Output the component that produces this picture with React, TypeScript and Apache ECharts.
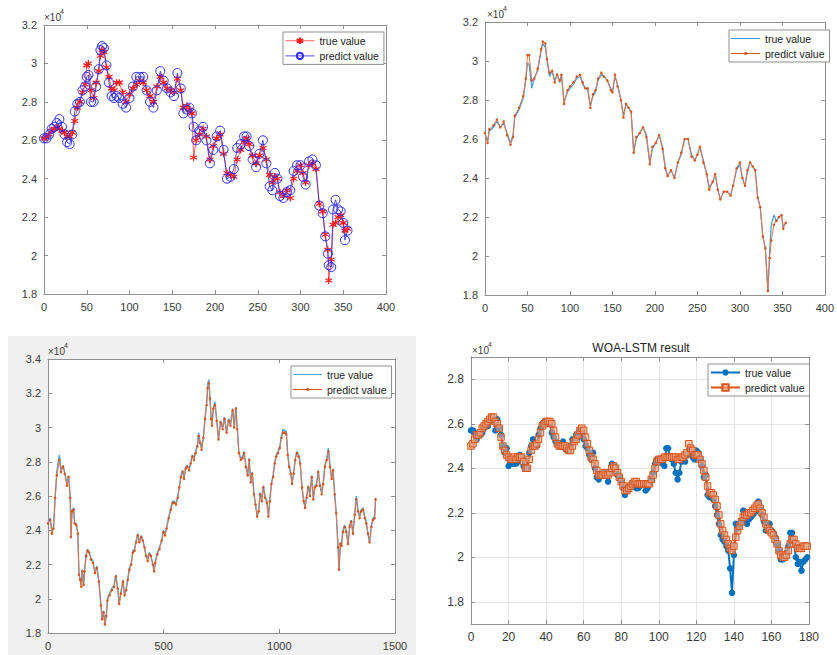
import React, { useEffect, useRef } from "react";
import * as echarts from "echarts";

const W = 837;
const H = 655;

// ---------- Panel 1 (top-left): true (red *) vs predict (blue o), values x10^4 ----------
const p1X = [
  0, 3, 6, 9, 12, 15, 18, 21, 24, 27,
  30, 33, 36, 39, 42, 45, 48, 50, 52, 55,
  58, 61, 64, 66, 68, 70, 73, 76, 79, 82,
  85, 88, 92, 96, 100, 104, 108, 112, 116, 120,
  124, 128, 132, 136, 140, 144, 148, 152, 156, 160,
  163, 167, 170, 173, 175, 178, 182, 186, 190, 194,
  198, 202, 206, 210, 214, 218, 222, 226, 230, 234,
  237, 240, 244, 248, 252, 256, 260, 264, 267, 270,
  273, 276, 280, 284, 288, 292, 296, 300, 303, 306,
  310, 314, 318, 322, 326, 329, 332, 333, 336, 338,
  341, 344, 347, 350, 352, 355,
];
const p1True = [
  2.61, 2.62, 2.63, 2.65, 2.66, 2.67, 2.66, 2.65, 2.64, 2.62,
  2.62, 2.64, 2.70, 2.77, 2.80, 2.85, 2.89, 2.99, 3.00, 2.86,
  2.82, 2.90, 2.96, 3.04, 3.07, 3.06, 2.98, 2.93, 2.87, 2.86,
  2.90, 2.90, 2.85, 2.80, 2.84, 2.87, 2.89, 2.91, 2.90, 2.86,
  2.83, 2.80, 2.88, 2.93, 2.90, 2.87, 2.86, 2.85, 2.92, 2.86,
  2.77, 2.78, 2.76, 2.74, 2.51, 2.60, 2.63, 2.66, 2.62, 2.50,
  2.57, 2.61, 2.63, 2.53, 2.43, 2.42, 2.41, 2.50, 2.55, 2.59,
  2.61, 2.58, 2.52, 2.48, 2.52, 2.56, 2.50, 2.42, 2.38, 2.41,
  2.40, 2.33, 2.31, 2.34, 2.30, 2.40, 2.44, 2.47, 2.43, 2.38,
  2.47, 2.48, 2.45, 2.27, 2.23, 2.11, 2.03, 1.87, 1.98, 2.16,
  2.17, 2.20, 2.21, 2.17, 2.13, 2.14,
];
const p1Pred = [
  2.61, 2.61, 2.63, 2.66, 2.67, 2.69, 2.71, 2.67, 2.63, 2.59,
  2.58, 2.63, 2.75, 2.79, 2.80, 2.86, 2.88, 2.93, 2.94, 2.80,
  2.80, 2.88, 2.97, 3.07, 3.09, 3.08, 2.99, 2.90, 2.83, 2.82,
  2.83, 2.82, 2.79, 2.77, 2.82, 2.88, 2.93, 2.93, 2.93, 2.86,
  2.80, 2.77, 2.86, 2.96, 2.91, 2.87, 2.85, 2.83, 2.95, 2.87,
  2.74, 2.76, 2.77, 2.74, 2.67, 2.60, 2.65, 2.67, 2.60, 2.48,
  2.55, 2.62, 2.65, 2.55, 2.40, 2.41, 2.45, 2.56, 2.58, 2.62,
  2.62, 2.57, 2.50, 2.46, 2.53, 2.60, 2.48, 2.36, 2.34, 2.43,
  2.40, 2.31, 2.30, 2.33, 2.34, 2.44, 2.47, 2.47, 2.41, 2.37,
  2.49, 2.50, 2.47, 2.26, 2.22, 2.10, 2.01, 1.95, 1.94, 2.24,
  2.29, 2.24, 2.23, 2.17, 2.08, 2.13,
];

// ---------- Panel 2 (top-right) ----------
const p2X = [
  0, 3, 5, 10, 14, 18, 22, 26, 30, 33,
  35, 40, 45, 48, 50, 52, 55, 58, 62, 66,
  68, 71, 73, 76, 79, 82, 85, 88, 90, 93,
  97, 100, 104, 108, 112, 115, 118, 121, 124, 127,
  130, 133, 137, 140, 144, 148, 150, 153, 156, 160,
  163, 166, 169, 172, 175, 178, 182, 186, 190, 194,
  197, 201, 205, 209, 212, 215, 219, 223, 227, 231,
  235, 239, 243, 247, 250, 253, 257, 261, 264, 268,
  271, 274, 277, 281, 285, 289, 292, 296, 300, 303,
  306, 309, 312, 315, 318, 321, 324, 327, 330, 333,
  335, 337, 340, 343, 346, 349, 351, 354,
];
const p2True = [
  2.62, 2.59, 2.64, 2.66, 2.69, 2.66, 2.68, 2.63, 2.58, 2.62,
  2.71, 2.75, 2.81, 2.90, 2.99, 2.98, 2.86, 2.91, 2.95, 3.05,
  3.09, 3.07, 3.00, 2.92, 2.95, 2.90, 2.93, 2.89, 2.93, 2.79,
  2.84, 2.86, 2.88, 2.91, 2.92, 2.88, 2.86, 2.85, 2.77, 2.82,
  2.84, 2.90, 2.93, 2.92, 2.90, 2.86, 2.84, 2.92, 2.88, 2.80,
  2.72, 2.78, 2.76, 2.74, 2.53, 2.60, 2.63, 2.66, 2.62, 2.48,
  2.55, 2.58, 2.62, 2.56, 2.46, 2.41, 2.44, 2.40, 2.48, 2.52,
  2.60, 2.60, 2.52, 2.49, 2.52, 2.56, 2.49, 2.42, 2.35, 2.38,
  2.42, 2.34, 2.29, 2.33, 2.33, 2.31, 2.36, 2.44, 2.47, 2.40,
  2.36, 2.44, 2.48, 2.46, 2.44, 2.30, 2.25, 2.10, 2.04, 1.82,
  2.02, 2.16, 2.21, 2.18, 2.20, 2.21, 2.15, 2.17,
];
const p2Pred = [
  2.63, 2.58, 2.65, 2.67, 2.70, 2.66, 2.69, 2.62, 2.57, 2.61,
  2.72, 2.76, 2.82, 2.91, 3.03, 3.03, 2.90, 2.91, 2.96, 3.06,
  3.10, 3.09, 3.01, 2.94, 2.95, 2.89, 2.93, 2.90, 2.93, 2.78,
  2.85, 2.87, 2.89, 2.92, 2.93, 2.89, 2.86, 2.86, 2.76, 2.83,
  2.85, 2.91, 2.94, 2.92, 2.90, 2.85, 2.84, 2.93, 2.87, 2.80,
  2.71, 2.78, 2.76, 2.74, 2.53, 2.61, 2.63, 2.66, 2.61, 2.47,
  2.56, 2.58, 2.62, 2.55, 2.45, 2.41, 2.44, 2.40, 2.48, 2.53,
  2.60, 2.60, 2.51, 2.49, 2.52, 2.56, 2.48, 2.42, 2.34, 2.38,
  2.42, 2.34, 2.29, 2.33, 2.33, 2.31, 2.36, 2.45, 2.48, 2.40,
  2.36, 2.44, 2.48, 2.46, 2.44, 2.30, 2.25, 2.10, 2.04, 1.82,
  1.99, 2.08, 2.16, 2.18, 2.20, 2.21, 2.14, 2.17,
];

// ---------- Panel 3 (bottom-left) ----------
const p3X = [
  0, 10, 17, 24, 31, 38, 49, 56, 65, 72,
  82, 89, 96, 99, 104, 111, 115, 122, 129, 134,
  139, 144, 148, 154, 158, 165, 171, 178, 185, 194,
  203, 211, 220, 229, 234, 240, 246, 252, 257, 266,
  276, 286, 293, 301, 308, 315, 324, 331, 338, 345,
  352, 360, 367, 374, 381, 388, 395, 403, 410, 417,
  424, 431, 438, 445, 453, 459, 464, 473, 482, 492,
  499, 506, 513, 522, 531, 539, 546, 553, 561, 568,
  575, 582, 588, 595, 602, 610, 617, 624, 631, 638,
  646, 651, 657, 664, 672, 679, 686, 690, 695, 700,
  705, 709, 715, 722, 729, 737, 746, 755, 763, 772,
  781, 789, 798, 805, 812, 818, 825, 833, 841, 848,
  855, 863, 870, 876, 883, 890, 897, 904, 911, 917,
  924, 931, 938, 946, 953, 959, 966, 973, 980, 987,
  994, 1002, 1009, 1016, 1023, 1030, 1036, 1042, 1049, 1055,
  1062, 1069, 1076, 1083, 1090, 1098, 1105, 1111, 1118, 1125,
  1132, 1140, 1147, 1154, 1161, 1168, 1176, 1183, 1190, 1197,
  1205, 1212, 1219, 1226, 1232, 1239, 1246, 1254, 1258, 1264,
  1269, 1275, 1282, 1289, 1297, 1304, 1311, 1318, 1326, 1333,
  1340, 1347, 1354, 1362, 1369, 1376, 1383, 1390, 1398, 1405,
  1412, 1416,
];
const p3True = [
  2.45, 2.47, 2.39, 2.42, 2.60, 2.74, 2.84, 2.75, 2.78, 2.74,
  2.67, 2.72, 2.60, 2.36, 2.52, 2.53, 2.44, 2.44, 2.38, 2.14,
  2.12, 2.07, 2.17, 2.08, 2.17, 2.26, 2.29, 2.27, 2.24, 2.22,
  2.15, 2.19, 2.10, 1.96, 1.88, 1.93, 1.85, 1.90, 2.00, 2.03,
  2.06, 2.08, 2.14, 2.06, 1.97, 2.04, 2.11, 2.02, 2.06, 2.12,
  2.18, 2.21, 2.28, 2.29, 2.34, 2.38, 2.33, 2.37, 2.34, 2.30,
  2.25, 2.23, 2.27, 2.25, 2.20, 2.16, 2.22, 2.27, 2.30, 2.35,
  2.40, 2.38, 2.42, 2.48, 2.53, 2.57, 2.57, 2.55, 2.60, 2.66,
  2.72, 2.75, 2.70, 2.77, 2.78, 2.76, 2.80, 2.84, 2.82, 2.86,
  2.90, 2.97, 2.92, 2.88, 2.95, 3.06, 3.15, 3.25, 3.28, 3.18,
  3.06, 3.02, 3.12, 3.15, 3.05, 2.93, 3.04, 3.00, 3.06, 2.97,
  3.05, 3.02, 3.11, 3.00, 3.12, 3.00, 2.86, 2.82, 2.83, 2.86,
  2.78, 2.72, 2.82, 2.68, 2.74, 2.62, 2.55, 2.48, 2.52, 2.62,
  2.58, 2.66, 2.60, 2.57, 2.48, 2.58, 2.68, 2.72, 2.80, 2.84,
  2.86, 2.89, 2.95, 2.99, 2.98, 2.98, 2.85, 2.78, 2.74, 2.67,
  2.74, 2.82, 2.86, 2.84, 2.80, 2.65, 2.58, 2.53, 2.60, 2.66,
  2.61, 2.72, 2.58, 2.66, 2.67, 2.75, 2.66, 2.62, 2.68, 2.78,
  2.82, 2.88, 2.78, 2.70, 2.76, 2.62, 2.50, 2.30, 2.17, 2.33,
  2.32, 2.40, 2.43, 2.40, 2.32, 2.43, 2.46, 2.38, 2.50, 2.60,
  2.52, 2.48, 2.52, 2.53, 2.48, 2.45, 2.38, 2.33, 2.43, 2.47,
  2.48, 2.59,
];
const p3Pred = [
  2.44, 2.46, 2.38, 2.41, 2.59, 2.72, 2.81, 2.74, 2.77, 2.73,
  2.66, 2.71, 2.59, 2.36, 2.51, 2.52, 2.44, 2.43, 2.38, 2.14,
  2.11, 2.07, 2.16, 2.08, 2.16, 2.25, 2.28, 2.27, 2.23, 2.21,
  2.15, 2.18, 2.10, 1.96, 1.88, 1.92, 1.85, 1.90, 1.99, 2.02,
  2.05, 2.07, 2.13, 2.06, 1.97, 2.03, 2.10, 2.02, 2.05, 2.11,
  2.17, 2.20, 2.27, 2.28, 2.33, 2.37, 2.33, 2.36, 2.34, 2.30,
  2.25, 2.22, 2.26, 2.25, 2.20, 2.16, 2.21, 2.26, 2.29, 2.34,
  2.39, 2.37, 2.41, 2.47, 2.52, 2.56, 2.56, 2.55, 2.59, 2.65,
  2.71, 2.74, 2.70, 2.76, 2.77, 2.75, 2.79, 2.83, 2.81, 2.85,
  2.89, 2.95, 2.91, 2.87, 2.94, 3.05, 3.13, 3.23, 3.26, 3.17,
  3.05, 3.01, 3.11, 3.13, 3.04, 2.93, 3.03, 2.99, 3.05, 2.97,
  3.04, 3.01, 3.10, 3.00, 3.11, 2.99, 2.85, 2.81, 2.82, 2.85,
  2.77, 2.72, 2.81, 2.68, 2.73, 2.61, 2.55, 2.48, 2.51, 2.61,
  2.57, 2.65, 2.59, 2.56, 2.48, 2.57, 2.67, 2.71, 2.79, 2.83,
  2.85, 2.88, 2.94, 2.97, 2.97, 2.96, 2.84, 2.77, 2.73, 2.67,
  2.73, 2.81, 2.85, 2.83, 2.79, 2.65, 2.57, 2.53, 2.59, 2.65,
  2.60, 2.71, 2.58, 2.65, 2.66, 2.74, 2.66, 2.61, 2.67, 2.77,
  2.81, 2.86, 2.77, 2.70, 2.75, 2.61, 2.50, 2.30, 2.17, 2.32,
  2.31, 2.39, 2.42, 2.39, 2.32, 2.42, 2.45, 2.38, 2.49, 2.58,
  2.51, 2.47, 2.51, 2.52, 2.47, 2.44, 2.38, 2.33, 2.42, 2.46,
  2.47, 2.58,
];

// ---------- Panel 4 (bottom-right, WOA-LSTM result), one value per sample 0..179 ----------
const p4True = [
  2.57, 2.57, 2.56, 2.53, 2.55, 2.55, 2.56, 2.58, 2.60, 2.59,
  2.61, 2.63, 2.62, 2.57, 2.62, 2.58, 2.55, 2.50, 2.47, 2.49,
  2.41, 2.43, 2.42, 2.42, 2.42, 2.43, 2.46, 2.45, 2.41, 2.40,
  2.40, 2.47, 2.50, 2.53, 2.50, 2.50, 2.55, 2.58, 2.60, 2.61,
  2.61, 2.60, 2.60, 2.56, 2.54, 2.52, 2.51, 2.50, 2.50, 2.52,
  2.49, 2.48, 2.48, 2.50, 2.53, 2.53, 2.55, 2.54, 2.57, 2.56,
  2.53, 2.50, 2.49, 2.46, 2.44, 2.47, 2.40, 2.36, 2.35, 2.37,
  2.37, 2.38, 2.37, 2.34, 2.38, 2.42, 2.41, 2.40, 2.37, 2.36,
  2.34, 2.31, 2.28, 2.30, 2.31, 2.32, 2.33, 2.32, 2.31, 2.31,
  2.32, 2.33, 2.33, 2.30, 2.31, 2.33, 2.35, 2.38, 2.42, 2.44,
  2.44, 2.43, 2.42, 2.41, 2.49, 2.49, 2.45, 2.44, 2.42, 2.38,
  2.35, 2.38, 2.43, 2.44, 2.43, 2.46, 2.48, 2.47, 2.45, 2.44,
  2.48, 2.47, 2.44, 2.41, 2.36, 2.37, 2.28, 2.27, 2.27, 2.26,
  2.23, 2.19, 2.15, 2.10, 2.08, 2.07, 2.05, 2.03, 1.95, 1.84,
  2.01, 2.15, 2.13, 2.14, 2.16, 2.21, 2.17, 2.15, 2.17, 2.18,
  2.19, 2.20, 2.21, 2.25, 2.22, 2.19, 2.16, 2.12, 2.14, 2.15,
  2.12, 2.11, 2.09, 2.06, 2.03, 1.99, 1.99, 2.00, 2.02, 2.05,
  2.11, 2.11, 2.07, 2.00, 1.97, 1.98, 1.94, 1.98, 1.99, 2.00,
];
const p4Pred = [
  2.50, 2.51, 2.53, 2.55, 2.55, 2.56, 2.58, 2.59, 2.60, 2.61,
  2.62, 2.63, 2.63, 2.61, 2.60, 2.58, 2.54, 2.50, 2.48, 2.46,
  2.45, 2.44, 2.44, 2.45, 2.44, 2.45, 2.45, 2.45, 2.43, 2.40,
  2.40, 2.44, 2.48, 2.50, 2.50, 2.51, 2.53, 2.56, 2.59, 2.60,
  2.61, 2.61, 2.61, 2.60, 2.57, 2.54, 2.51, 2.50, 2.50, 2.50,
  2.50, 2.49, 2.48, 2.48, 2.50, 2.52, 2.53, 2.55, 2.57, 2.58,
  2.57, 2.54, 2.51, 2.48, 2.45, 2.44, 2.42, 2.39, 2.37, 2.37,
  2.37, 2.38, 2.37, 2.37, 2.38, 2.40, 2.41, 2.40, 2.38, 2.36,
  2.34, 2.32, 2.30, 2.30, 2.31, 2.32, 2.33, 2.34, 2.34, 2.33,
  2.33, 2.33, 2.33, 2.33, 2.33, 2.33, 2.35, 2.37, 2.40, 2.43,
  2.44, 2.44, 2.44, 2.45, 2.45, 2.45, 2.45, 2.45, 2.45, 2.45,
  2.44, 2.44, 2.45, 2.45, 2.46, 2.47, 2.51, 2.49, 2.48, 2.46,
  2.46, 2.46, 2.44, 2.42, 2.39, 2.36, 2.32, 2.29, 2.29, 2.28,
  2.26, 2.23, 2.19, 2.15, 2.12, 2.10, 2.08, 2.06, 2.04, 2.03,
  2.05, 2.09, 2.12, 2.14, 2.16, 2.18, 2.19, 2.19, 2.20, 2.20,
  2.21, 2.22, 2.23, 2.24, 2.22, 2.20, 2.18, 2.15, 2.13, 2.12,
  2.11, 2.10, 2.08, 2.06, 2.03, 2.01, 2.00, 2.00, 2.01, 2.03,
  2.06, 2.08, 2.08, 2.06, 2.04, 2.04, 2.04, 2.05, 2.05, 2.05,
];

// tick/axis definitions
const yTicks12 = { min: 1.8, max: 3.2, interval: 0.2 };
const xTicks12 = { min: 0, max: 400, interval: 50 };
const yTicks3 = { min: 1.8, max: 3.4, interval: 0.2 };
const xTicks3 = { min: 0, max: 1500, interval: 500 };
const yTicks4 = { min: 1.7, max: 2.9, splitNumber: 6 };
const xTicks4 = { min: 0, max: 180, interval: 20 };

const TRUE_NAME = "true value";
const PRED_NAME = "predict value";

const AX = "#8f8f8f";
const TXT = "#3a3a3a";
const FONT = "'Liberation Sans', Arial, Helvetica, sans-serif";
const ASTERISK = "path://M0 -5L0 5M-4.33 -2.5L4.33 2.5M-4.33 2.5L4.33 -2.5";
const LINE_ICON = "path://M0 0H30V1.1H0Z";
const LINE_DOT_ICON = "path://M0 1.1H30V2H0ZM14 0H16.2V3.1H14Z";

const zip = (xs: number[], ys: number[]) => {
  const n = Math.min(xs.length, ys.length);
  const out: number[][] = [];
  for (let i = 0; i < n; i++) out.push([xs[i], ys[i]]);
  return out;
};
const idx = (ys: number[]) => ys.map((v, i) => [i, v]);
const fmt = (v: number) => String(parseFloat(Number(v).toFixed(2)));

function xPair(g: number, t: any, fs: number, split: boolean) {
  const common = {
    type: "value",
    gridIndex: g,
    ...t,
    axisLine: { show: true, onZero: false, lineStyle: { color: AX, width: 1 } },
    axisTick: { show: true, inside: true, length: 4, lineStyle: { color: AX } },
    splitLine: { show: false },
  };
  return [
    {
      ...common,
      position: "bottom",
      axisLabel: { show: true, color: TXT, fontSize: fs, fontFamily: FONT, margin: 7, formatter: fmt },
      splitLine: { show: split, lineStyle: { color: "#e4e4e4", width: 1 } },
    },
    { ...common, position: "top", axisLabel: { show: false } },
  ];
}
function yPair(g: number, t: any, fs: number, split: boolean, hideEnds = false) {
  const common = {
    type: "value",
    gridIndex: g,
    ...t,
    axisLine: { show: true, onZero: false, lineStyle: { color: AX, width: 1 } },
    axisTick: { show: true, inside: true, length: 4, lineStyle: { color: AX } },
    splitLine: { show: false },
  };
  return [
    {
      ...common,
      position: "left",
      axisLabel: {
        show: true,
        color: TXT,
        fontSize: fs,
        fontFamily: FONT,
        margin: 7,
        formatter: fmt,
        showMinLabel: !hideEnds,
        showMaxLabel: !hideEnds,
      },
      splitLine: { show: split, lineStyle: { color: "#e4e4e4", width: 1 } },
    },
    { ...common, position: "right", axisLabel: { show: false } },
  ];
}

function expLabel(x: number, y: number, fs: number) {
  return [
    { type: "text", x, y, style: { text: "×10", fontSize: fs, fontFamily: FONT, fill: TXT } },
    { type: "text", x: x + fs * 1.6, y: y - 4, style: { text: "4", fontSize: fs - 3, fontFamily: FONT, fill: TXT } },
  ];
}

function buildOption() {
  const names = [0, 1, 2, 3].map((k) => ({ t: TRUE_NAME + " ".repeat(k), p: PRED_NAME + " ".repeat(k) }));
  const legendBase = {
    orient: "vertical",
    itemWidth: 29,
    itemHeight: 8,
    itemGap: 4,
    padding: [3, 5, 3, 2],
    borderColor: AX,
    borderWidth: 1,
    backgroundColor: "#fff",
    selectedMode: false,
    textStyle: { color: "#222", fontSize: 10.5, fontFamily: FONT },
    formatter: (n: string) => n.trim(),
  };
  const grids = [
    { left: 44, top: 25, width: 342, height: 269 },
    { left: 485, top: 22, width: 348, height: 273 },
    { left: 48, top: 359, width: 347, height: 274 },
    { left: 471, top: 357, width: 338, height: 267 },
  ].map((g) => ({ ...g, show: true, backgroundColor: "#fff", borderWidth: 0, containLabel: false }));

  const xAxis = [
    ...xPair(0, xTicks12, 11, false),
    ...xPair(1, xTicks12, 11, false),
    ...xPair(2, xTicks3, 11, false),
    ...xPair(3, xTicks4, 12, true),
  ];
  const yAxis = [
    ...yPair(0, yTicks12, 11, false),
    ...yPair(1, yTicks12, 11, false),
    ...yPair(2, yTicks3, 11, false),
    ...yPair(3, yTicks4, 12, true, true),
  ];

  const series: any[] = [
    {
      name: names[0].t,
      type: "line",
      xAxisIndex: 0,
      yAxisIndex: 0,
      data: zip(p1X, p1True),
      symbol: ASTERISK,
      symbolSize: 7,
      showAllSymbol: true,
      itemStyle: { color: "none", borderColor: "#ff1a1a", borderWidth: 1.2 },
      lineStyle: { color: "#ff3b3b", width: 0.8 },
    },
    {
      name: names[0].p,
      type: "line",
      xAxisIndex: 0,
      yAxisIndex: 0,
      data: zip(p1X, p1Pred),
      symbol: "circle",
      symbolSize: 9,
      showAllSymbol: true,
      itemStyle: { color: "rgba(255,255,255,0)", borderColor: "#2a2aff", borderWidth: 1 },
      lineStyle: { color: "#2222dd", width: 0.8 },
    },
    {
      name: names[1].t,
      type: "line",
      xAxisIndex: 2,
      yAxisIndex: 2,
      data: zip(p2X, p2True),
      symbol: "none",
      itemStyle: { color: "#3f9ad6" },
      lineStyle: { color: "#3f9ad6", width: 1.2 },
    },
    {
      name: names[1].p,
      type: "line",
      xAxisIndex: 2,
      yAxisIndex: 2,
      data: zip(p2X, p2Pred),
      symbol: "circle",
      symbolSize: 2.5,
      showAllSymbol: true,
      itemStyle: { color: "#D95319" },
      lineStyle: { color: "#e0744a", width: 1 },
    },
    {
      name: names[2].t,
      type: "line",
      xAxisIndex: 4,
      yAxisIndex: 4,
      data: zip(p3X, p3True),
      symbol: "none",
      itemStyle: { color: "#4aa6e0" },
      lineStyle: { color: "#4aa6e0", width: 1.4 },
    },
    {
      name: names[2].p,
      type: "line",
      xAxisIndex: 4,
      yAxisIndex: 4,
      data: zip(p3X, p3Pred),
      symbol: "circle",
      symbolSize: 2.5,
      showAllSymbol: true,
      itemStyle: { color: "#D95319" },
      lineStyle: { color: "#e0744a", width: 1 },
    },
    {
      name: names[3].t,
      type: "line",
      xAxisIndex: 6,
      yAxisIndex: 6,
      data: idx(p4True),
      symbol: "circle",
      symbolSize: 6.5,
      showAllSymbol: true,
      itemStyle: { color: "#0072BD" },
      lineStyle: { color: "#0072BD", width: 2 },
    },
    {
      name: names[3].p,
      type: "line",
      xAxisIndex: 6,
      yAxisIndex: 6,
      data: idx(p4Pred),
      symbol: "rect",
      symbolSize: 6.5,
      showAllSymbol: true,
      itemStyle: { color: "rgba(240,170,140,0.6)", borderColor: "#D95319", borderWidth: 1 },
      lineStyle: { color: "#D95319", width: 2 },
    },
  ];

  const legend = [
    { ...legendBase, left: 283, top: 32, lineStyle: { width: 0.8 }, data: [names[0].t, names[0].p] },
    {
      ...legendBase,
      left: 729,
      top: 30,
      data: [
        { name: names[1].t, icon: LINE_ICON },
        { name: names[1].p, icon: LINE_DOT_ICON },
      ],
    },
    {
      ...legendBase,
      left: 291,
      top: 366,
      data: [
        { name: names[2].t, icon: LINE_ICON },
        { name: names[2].p, icon: LINE_DOT_ICON },
      ],
    },
    { ...legendBase, left: 708, top: 364, data: [names[3].t, names[3].p] },
  ];

  const graphic = [
    { type: "rect", z: -100, shape: { x: 8, y: 336, width: 408, height: 319 }, style: { fill: "#f0f0f0" } },
    ...expLabel(44, 12, 10),
    ...expLabel(487, 9, 10),
    ...expLabel(48, 346, 10),
    ...expLabel(472, 345, 10),
    {
      type: "text",
      x: 641,
      y: 342,
      style: { text: "WOA-LSTM result", fontSize: 12, fontFamily: FONT, fill: "#222", textAlign: "center" },
    },
  ];

  return {
    animation: false,
    backgroundColor: "#fff",
    grid: grids,
    xAxis,
    yAxis,
    legend,
    series,
    graphic,
  };
}

export default function App() {
  const ref = useRef<HTMLDivElement>(null);
  useEffect(() => {
    if (!ref.current) return;
    const chart = echarts.init(ref.current, undefined, { renderer: "svg" });
    chart.setOption(buildOption() as any);
    return () => chart.dispose();
  }, []);
  return (
    <div
      ref={ref}
      style={{ position: "fixed", left: 0, top: 0, width: W, height: H, background: "#fff" }}
    />
  );
}
